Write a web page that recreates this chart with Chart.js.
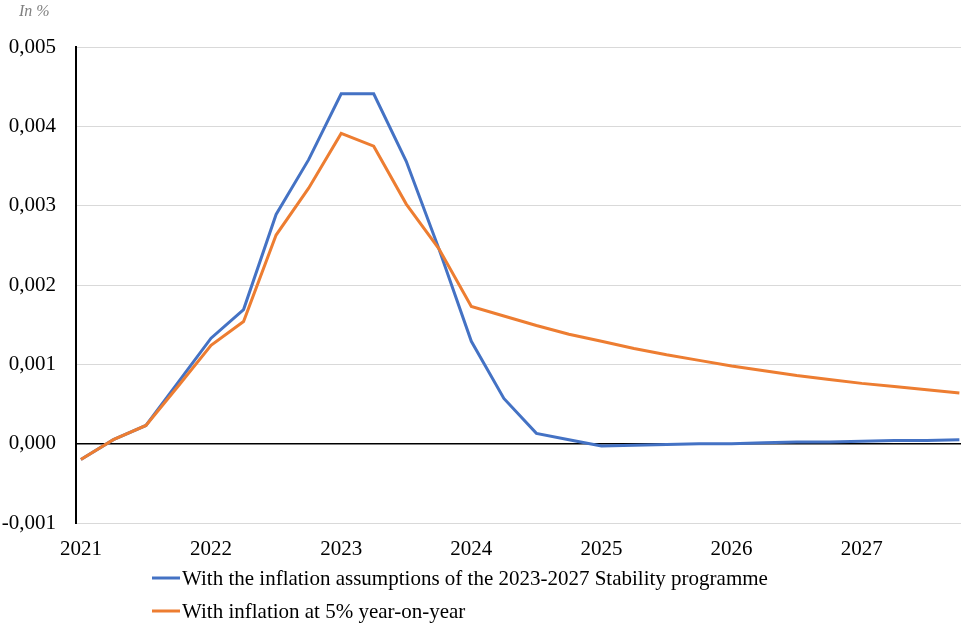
<!DOCTYPE html>
<html>
<head>
<meta charset="utf-8">
<script src="https://cdn.jsdelivr.net/npm/chart.js@4/dist/chart.umd.min.js"></script>
<style>
  html, body { margin: 0; padding: 0; background: #fff; }
  #wrap { width: 961px; height: 625px; position: relative; }
</style>
</head>
<body>
<div id="wrap"><canvas id="c"></canvas></div>
<script>
// Quarterly values, 2021 Q1 to 2027 Q4 (28 quarters)
const yearLabels = ['2021', '2022', '2023', '2024', '2025', '2026', '2027'];
const seriesNames = [
  'With the inflation assumptions of the 2023-2027 Stability programme',
  'With inflation at 5% year-on-year'
];
const stabilityProgramme = [
  -0.00020, 0.00005, 0.00023, 0.00078,
   0.00133, 0.00169, 0.00289, 0.00358,
   0.00441, 0.00441, 0.00356, 0.00246,
   0.00129, 0.00057, 0.00013, 0.00005,
  -0.00003, -0.00002, -0.00001, 0.00000,
   0.00000, 0.00001, 0.00002, 0.00002,
   0.00003, 0.00004, 0.00004, 0.00005
];
const inflationFivePct = [
  -0.00020, 0.00005, 0.00023, 0.00073,
   0.00124, 0.00154, 0.00263, 0.00322,
   0.00391, 0.00375, 0.00302, 0.00246,
   0.00173, 0.00161, 0.00149, 0.00138,
   0.00129, 0.00120, 0.00112, 0.00105,
   0.00098, 0.00092, 0.00086, 0.00081,
   0.00076, 0.00072, 0.00068, 0.00064
];
const yTicks = [-0.001, 0, 0.001, 0.002, 0.003, 0.004, 0.005];

const BLUE = '#4472C4';
const ORANGE = '#ED7D31';
const SERIF = '"Liberation Serif", "Times New Roman", serif';

const toPoints = arr => arr.map((v, i) => ({ x: i, y: v }));

// Unit label and the two-row legend under the axis
const decorations = {
  id: 'decorations',
  afterDraw(chart) {
    const ctx = chart.ctx;
    ctx.save();
    ctx.fillStyle = '#808080';
    ctx.font = 'italic 16px ' + SERIF;
    ctx.textBaseline = 'alphabetic';
    ctx.textAlign = 'left';
    ctx.fillText('In %', 19, 16);

    const rows = [
      { text: seriesNames[0], color: BLUE, y: chart.height - 47 },
      { text: seriesNames[1], color: ORANGE, y: chart.height - 14 }
    ];
    ctx.font = '21px ' + SERIF;
    ctx.textBaseline = 'middle';
    rows.forEach(r => {
      ctx.strokeStyle = r.color;
      ctx.lineWidth = 3;
      ctx.beginPath();
      ctx.moveTo(152, r.y);
      ctx.lineTo(180, r.y);
      ctx.stroke();
      ctx.fillStyle = '#000';
      ctx.fillText(r.text, 182, r.y + 1);
    });
    ctx.restore();
  }
};

new Chart(document.getElementById('c'), {
  type: 'line',
  data: {
    datasets: [
      {
        label: seriesNames[0],
        data: toPoints(stabilityProgramme),
        borderColor: BLUE,
        backgroundColor: BLUE,
        borderWidth: 3,
        pointRadius: 0,
        tension: 0,
        order: 1
      },
      {
        label: seriesNames[1],
        data: toPoints(inflationFivePct),
        borderColor: ORANGE,
        backgroundColor: ORANGE,
        borderWidth: 3,
        pointRadius: 0,
        tension: 0,
        order: 0
      }
    ]
  },
  options: {
    responsive: true,
    maintainAspectRatio: false,
    animation: false,
    layout: { padding: { top: 47, right: 0, left: 0, bottom: 62 } },
    plugins: {
      legend: { display: false },
      tooltip: { enabled: false }
    },
    scales: {
      x: {
        type: 'linear',
        min: -0.15,
        max: 27.05,
        afterFit(scale) { scale.height = 40; },
        afterBuildTicks(scale) {
          scale.ticks = yearLabels.map((_, i) => ({ value: i * 4 }));
        },
        ticks: {
          autoSkip: false,
          maxRotation: 0,
          padding: 14,
          color: '#000',
          font: { family: SERIF, size: 21 },
          callback: (v) => yearLabels[Math.round(v / 4)]
        },
        grid: { display: false, drawTicks: false },
        border: { display: true, color: '#d9d9d9', width: 1 }
      },
      y: {
        min: -0.001,
        max: 0.005,
        afterFit(scale) { scale.width = 76; },
        afterBuildTicks(scale) {
          scale.ticks = yTicks.map(v => ({ value: v }));
        },
        ticks: {
          padding: 20,
          color: '#000',
          font: { family: SERIF, size: 21 },
          callback: (v) => v.toFixed(3).replace('.', ',')
        },
        grid: {
          drawTicks: false,
          color: (c) => (c.tick && Math.abs(c.tick.value) < 1e-9) ? '#000' : '#d9d9d9',
          lineWidth: (c) => (c.tick && Math.abs(c.tick.value) < 1e-9) ? 1.5 : 1
        },
        border: { display: true, color: '#000', width: 2 }
      }
    }
  },
  plugins: [decorations]
});
</script>
</body>
</html>
